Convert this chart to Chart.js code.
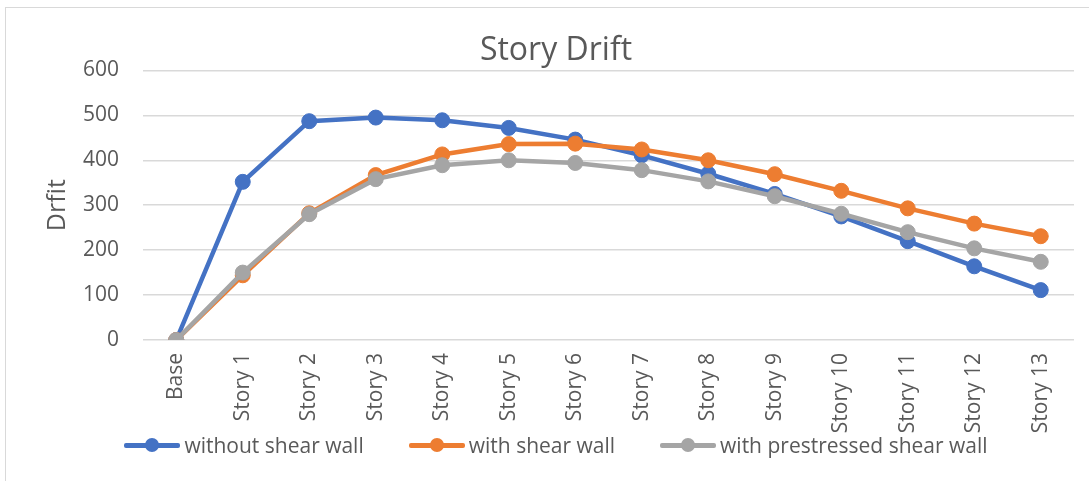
<!DOCTYPE html>
<html>
<head>
<meta charset="utf-8">
<script src="https://cdn.jsdelivr.net/npm/chart.js@4"></script>
<style>
  html, body { margin: 0; padding: 0; background: #fff; overflow: hidden; }
  body { width: 1089px; height: 481px; position: relative; font-family: "Open Sans", sans-serif; }
  #frame { position: absolute; left: 5px; top: 7px; width: 1200px; height: 600px;
           border-left: 1.5px solid #d9d9d9; border-top: 1.5px solid #d9d9d9; }
  #wrap { position: absolute; left: 0; top: 0; width: 1112px; height: 481px; }
  #legend { position: absolute; left: 0; width: 1112px; top: 432px; display: flex;
            justify-content: center; gap: 45px; color: #595959; font-size: 21px; line-height: 26px; }
  .item { display: flex; align-items: center; }
  .swatch { position: relative; width: 56px; height: 26px; margin-right: 4px; }
  .swatch .ln { position: absolute; left: 0; right: 0; top: 11px; height: 4.5px; border-radius: 2px; }
  .swatch .dot { position: absolute; left: 21px; top: 6px; width: 14px; height: 14px; border-radius: 50%; }
</style>
</head>
<body>
<div id="frame"></div>
<div id="wrap"><canvas id="chart" width="1112" height="481"></canvas></div>
<div id="legend"></div>
<script>
const categories = ["Base", "Story 1", "Story 2", "Story 3", "Story 4", "Story 5", "Story 6",
  "Story 7", "Story 8", "Story 9", "Story 10", "Story 11", "Story 12", "Story 13"];
const withoutShearWall = [0, 352, 487, 495, 489, 472, 446, 411, 370, 325, 275, 220, 164, 111];
const withShearWall = [0, 144, 282, 367, 413, 436, 437, 424, 400, 369, 332, 293, 259, 231];
const withPrestressedWall = [0, 150, 280, 358, 389, 400, 394, 378, 353, 320, 281, 240, 204, 174];
const seriesNames = ["without shear wall", "with shear wall", "with prestressed shear wall"];
const seriesColors = ["#4472C4", "#ED7D31", "#A5A5A5"];
const yTicks = [0, 100, 200, 300, 400, 500, 600];

const textColor = "#595959";
const fontFamily = "'Open Sans', sans-serif";

function makeDataset(idx, values) {
  return {
    label: seriesNames[idx],
    data: values,
    borderColor: seriesColors[idx],
    backgroundColor: seriesColors[idx],
    pointBackgroundColor: seriesColors[idx],
    pointBorderColor: seriesColors[idx],
    borderWidth: 4.5,
    pointRadius: 7.5,
    pointBorderWidth: 1,
    tension: 0,
    // Excel draws later series on top
    order: 2 - idx,
  };
}

new Chart(document.getElementById("chart"), {
  type: "line",
  data: {
    labels: categories,
    datasets: [
      makeDataset(0, withoutShearWall),
      makeDataset(1, withShearWall),
      makeDataset(2, withPrestressedWall),
    ],
  },
  options: {
    responsive: false,
    animation: false,
    layout: { padding: { left: 38, right: 38, top: 0, bottom: 0 } },
    plugins: {
      legend: { display: false },
      tooltip: { enabled: false },
      title: {
        display: true,
        text: "Story Drift",
        color: textColor,
        font: { family: fontFamily, size: 32, weight: "normal" },
        padding: { top: 32, bottom: 0 },
      },
    },
    scales: {
      x: {
        offset: true,
        grid: { display: false, drawTicks: false },
        border: { display: false },
        ticks: {
          color: textColor,
          font: { family: fontFamily, size: 21 },
          maxRotation: 90,
          minRotation: 90,
          autoSkip: false,
          padding: 13,
        },
        afterFit: (scale) => { scale.height = 141; },
      },
      y: {
        min: 0,
        max: 600,
        afterBuildTicks: (scale) => { scale.ticks = yTicks.map((v) => ({ value: v })); },
        grid: { color: "#d9d9d9", lineWidth: 1.5, drawTicks: false },
        border: { display: false },
        ticks: {
          color: textColor,
          font: { family: fontFamily, size: 21 },
          padding: 24,
        },
        title: {
          display: true,
          text: "Drfit",
          color: textColor,
          font: { family: fontFamily, size: 25 },
          padding: { top: 5, bottom: 0 },
        },
        afterFit: (scale) => { scale.width = 105; },
      },
    },
  },
});

const legend = document.getElementById("legend");
seriesNames.forEach((name, idx) => {
  const item = document.createElement("div");
  item.className = "item";
  item.innerHTML =
    `<span class="swatch"><span class="ln" style="background:${seriesColors[idx]}"></span>` +
    `<span class="dot" style="background:${seriesColors[idx]}"></span></span><span>${name}</span>`;
  legend.appendChild(item);
});
</script>
</body>
</html>
